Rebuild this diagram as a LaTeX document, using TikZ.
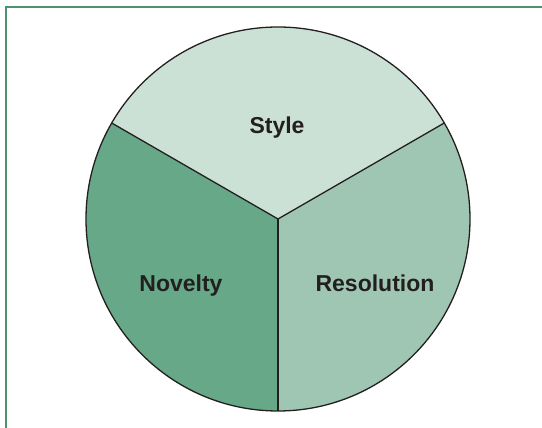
\documentclass[tikz,border=0pt]{standalone}
\usepackage{fontspec}
\setmainfont{Liberation Sans}
\definecolor{frameg}{HTML}{4A9272}
\definecolor{topc}{HTML}{CCE1D5}
\definecolor{rightc}{HTML}{9FC6B2}
\definecolor{leftc}{HTML}{66A887}
\definecolor{edgec}{HTML}{231F20}
\tikzset{
  sector/.style={draw=edgec, line width=1.3pt, line join=round},
  lbl/.style={font=\fontsize{23}{27}\selectfont\bfseries, text=edgec, inner sep=0pt, anchor=base},
  framel/.style={draw=frameg, line width=2pt}
}
\begin{document}
\begin{tikzpicture}[x=1pt,y=1pt]
\useasboundingbox (0,0) rectangle (542,428);
\fill[white] (0,0) rectangle (542,428);
\coordinate (c) at (278,209);
\def\R{192}
% sectors
\fill[topc] (c) -- ++(30:\R) arc[start angle=30, end angle=150, radius=\R] -- cycle;
\fill[rightc] (c) -- ++(270:\R) arc[start angle=-90, end angle=30, radius=\R] -- cycle;
\fill[leftc] (c) -- ++(150:\R) arc[start angle=150, end angle=270, radius=\R] -- cycle;
% outline
\draw[sector] (c) circle[radius=\R];
\draw[sector] (c) -- ++(30:\R);
\draw[sector] (c) -- ++(150:\R);
\draw[sector] (c) -- ++(270:\R);
% labels
\node[lbl] (style) at (277,294) {Style};
\node[lbl] (novelty) at (181,136) {Novelty};
\node[lbl] (resolution) at (375,136) {Resolution};
% frame
\draw[framel] (6,0) -- (6,421) -- (542,421);
\end{tikzpicture}
\end{document}
